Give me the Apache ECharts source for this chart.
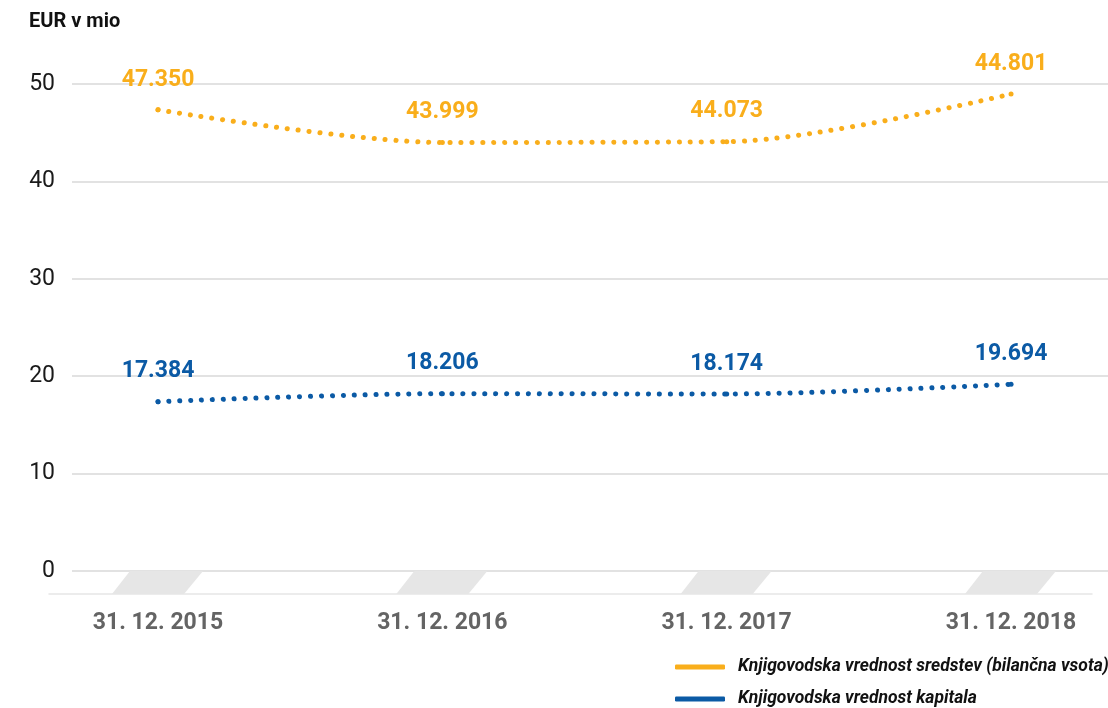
<!DOCTYPE html>
<html>
<head>
<meta charset="utf-8">
<script src="https://cdn.jsdelivr.net/npm/echarts@6/dist/echarts.min.js"></script>
<style>
  html, body { margin: 0; padding: 0; background: #fff; }
  #chart { width: 1108px; height: 708px; }
</style>
</head>
<body>
<div id="chart"></div>
<script>
var categories = ['31. 12. 2015', '31. 12. 2016', '31. 12. 2017', '31. 12. 2018'];
var seriesNames = ['Knjigovodska vrednost sredstev (bilančna vsota)', 'Knjigovodska vrednost kapitala'];
// plotted positions
var assets = [47.35, 43.999, 44.073, 48.97];
var equity = [17.384, 18.206, 18.174, 19.17];
// printed labels
var assetsLabels = ['47.350', '43.999', '44.073', '44.801'];
var equityLabels = ['17.384', '18.206', '18.174', '19.694'];
var yTicks = [0, 10, 20, 30, 40, 50];

var orange = '#F9AE1B';
var blue = '#0B5AA5';
var font = 'Roboto';

function toPoints(arr) {
  return arr.map(function (v, i) { return [i, v]; });
}

function lineSeries(name, values, labels, color) {
  return {
    name: name,
    type: 'line',
    xAxisIndex: 0, yAxisIndex: 0,
    data: toPoints(values),
    smooth: 0.3,
    symbol: 'circle',
    symbolSize: 5,
    itemStyle: { color: color },
    lineStyle: { color: color, width: 5, type: [0.1, 10.8], cap: 'round' },
    label: {
      show: true,
      position: 'top',
      distance: 16,
      fontFamily: font, fontSize: 23, fontWeight: 'bold', color: color,
      formatter: function (p) { return labels[p.dataIndex]; }
    }
  };
}

// one legend per row so nothing wraps
function legendRow(name, top) {
  return {
    left: 675,
    top: top,
    padding: 0,
    itemWidth: 50,
    itemHeight: 5,
    icon: 'roundRect',
    data: [name],
    textStyle: { fontFamily: font, fontSize: 17.5, fontWeight: 'bold', fontStyle: 'italic', color: '#111', padding: [0, 0, 0, 8] }
  };
}

var myChart = echarts.init(document.getElementById('chart'));

var option = {
  backgroundColor: '#fff',
  animation: false,
  title: {
    text: 'EUR v mio',
    left: 29,
    top: 12,
    padding: 0,
    textStyle: { fontFamily: font, fontSize: 20, fontWeight: 'bold', color: '#111' }
  },
  legend: [legendRow(seriesNames[0], 658), legendRow(seriesNames[1], 690)],
  grid: [
    { left: 72, right: 0, top: 84, bottom: 137 },
    { left: 49, right: 16, top: 571, height: 23 }
  ],
  xAxis: [
    { type: 'value', gridIndex: 0, min: -0.3025, max: 3.341, show: false },
    {
      type: 'value', gridIndex: 1, min: -0.3834, max: 3.285,
      splitLine: { show: false },
      axisTick: { show: false },
      axisLine: { show: true, lineStyle: { color: '#e6e6e6', width: 1.5 } },
      axisLabel: {
        customValues: [0, 1, 2, 3],
        margin: 18,
        fontFamily: font, fontSize: 23, fontWeight: 'bold', color: '#646464',
        formatter: function (v) { return categories[Math.round(v)]; }
      }
    }
  ],
  yAxis: [
    {
      type: 'value', gridIndex: 0, min: yTicks[0], max: yTicks[yTicks.length - 1], interval: 10,
      axisLine: { show: false },
      axisTick: { show: false },
      splitLine: { lineStyle: { color: '#e2e2e2', width: 2 } },
      axisLabel: {
        margin: 17,
        fontFamily: font, fontSize: 23, color: '#1a1a1a',
        padding: [0, 0, 12, 0]
      }
    },
    { type: 'value', gridIndex: 1, min: 0, max: 1, show: false }
  ],
  series: [
    lineSeries(seriesNames[0], assets, assetsLabels, orange),
    lineSeries(seriesNames[1], equity, equityLabels, blue),
    {
      // slanted grey tabs under each category
      type: 'custom',
      xAxisIndex: 1, yAxisIndex: 1,
      silent: true,
      data: categories.map(function (c, i) { return [i]; }),
      renderItem: function (params, api) {
        var b = api.coord([api.value(0), 0]);
        var t = api.coord([api.value(0), 1]);
        return {
          type: 'polygon',
          shape: { points: [[b[0] - 46, b[1]], [b[0] + 26, b[1]], [t[0] + 45, t[1]], [t[0] - 28, t[1]]] },
          style: { fill: '#e6e6e6' }
        };
      }
    }
  ]
};

myChart.setOption(option);
window.addEventListener('resize', function () {
  myChart.resize();
});
</script>
</body>
</html>
